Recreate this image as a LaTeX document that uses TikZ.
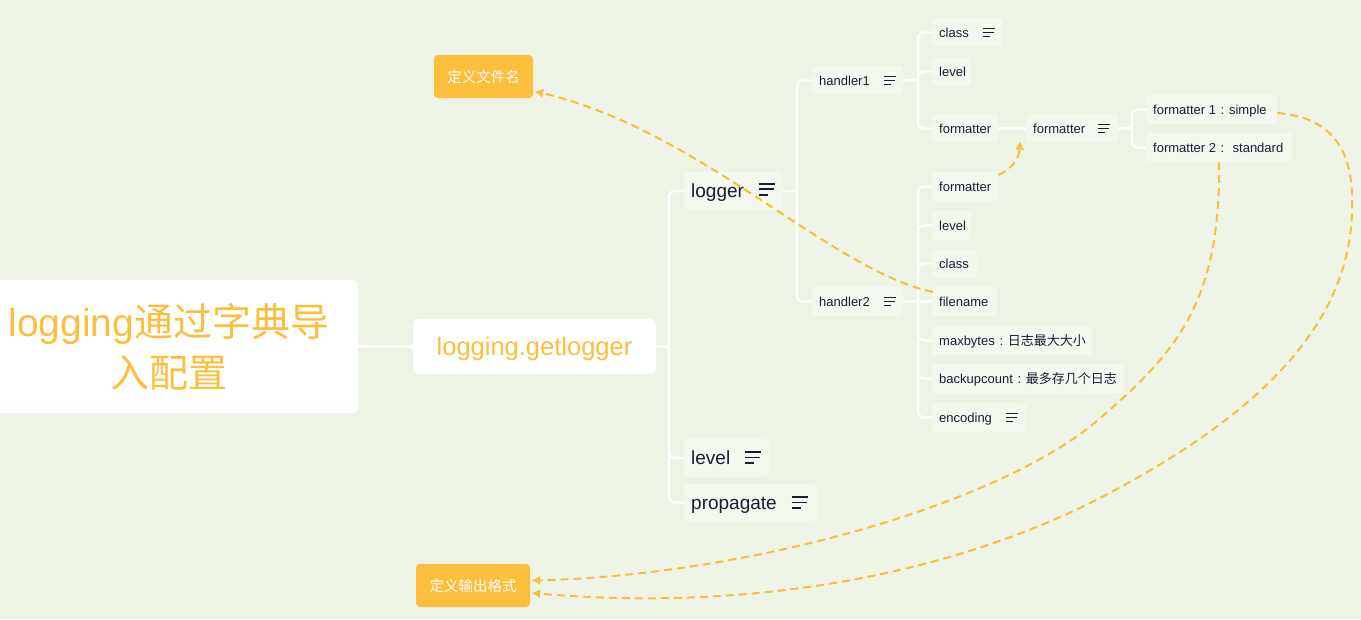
\documentclass[tikz,border=0pt]{standalone}
\usepackage{fontspec}
\setmainfont{Liberation Sans}
\newfontfamily\cjk{Noto Sans CJK SC}
\usetikzlibrary{arrows.meta,calc}
\definecolor{bgc}{HTML}{EDF4E6}
\definecolor{nodefill}{HTML}{F4F9EF}
\definecolor{orangec}{HTML}{FBBF3D}
\definecolor{darktext}{HTML}{1B1B36}
\newcommand\mmfit[2]{\makebox[#1][l]{#2}}
\newcommand\mmcolon{\makebox[13pt][c]{:}}
\tikzset{
  conn/.style={draw=white, line width=2.4pt, rounded corners=6pt},
  bigbox/.style={fill=white, rounded corners=5pt, inner sep=0pt, text=orangec},
  topic/.style={fill=nodefill, rounded corners=4pt, inner xsep=7pt, inner ysep=0pt,
      text=darktext, anchor=west, font=\fontsize{19}{22}\selectfont,
      minimum height=38pt, text height=15pt, text depth=2pt},
  leaf/.style={fill=nodefill, rounded corners=4pt, inner xsep=7pt, inner ysep=0pt,
      text=darktext, anchor=west, font=\fontsize{13}{15}\selectfont,
      minimum height=29pt, text height=11pt, text depth=2pt},
  notebox/.style={fill=orangec, rounded corners=4pt, inner sep=0pt, text=white,
      font=\cjk\fontsize{14.5}{16}\selectfont, text height=12pt, text depth=1pt},
  relation/.style={draw=orangec, line width=2pt, dash pattern=on 8pt off 5pt,
      -{Triangle[length=8pt,width=8pt]}},
  noteline/.style={draw=darktext, line cap=butt},
  snote/.pic={\draw[noteline, line width=1.3pt] (-12,-4) -- (0,-4) (-12,0) -- (-1,0) (-12,3.8) -- (-5,3.8);},
  bnote/.pic={\draw[noteline, line width=1.8pt] (-16.5,-5.5) -- (0,-5.5) (-16.5,0) -- (-1.5,0) (-16.5,5.4) -- (-7,5.4);}
}
\begin{document}
\begin{tikzpicture}[x=1pt,y=-1pt]
\fill[bgc] (0,0) rectangle (1361,619);
\useasboundingbox (0,0) rectangle (1361,619);

% main nodes
\node[bigbox, minimum width=378pt, minimum height=133pt, align=center,
      font=\fontsize{39}{51}\selectfont] (root) at (169,346.5)
      {logging{\cjk 通过字典导}\\{\cjk 入配置}};
\node[bigbox, minimum width=243pt, minimum height=55pt, text height=19pt, text depth=2pt,
      font=\fontsize{25.5}{28}\selectfont] (getlogger) at (534.5,346.5) {logging.getlogger};

\node[topic] (logger) at (684,191) {\mmfit{85pt}{logger}};
\node[topic] (toplevel) at (684,458) {\mmfit{71pt}{level}};
\node[topic, minimum height=37pt] (propagate) at (684,502.5) {\mmfit{119pt}{propagate}};

\node[leaf] (handler1) at (812,80.5) {\mmfit{77pt}{handler1}};
\node[leaf] (handler2) at (812,301.5) {\mmfit{77pt}{handler2}};

\node[leaf] (hclass) at (932,32.5) {\mmfit{56pt}{class}};
\node[leaf] (hlevel) at (932,71.5) {\mmfit{25pt}{level}};
\node[leaf] (hfmt) at (932,128.5) {\mmfit{52pt}{formatter}};
\node[leaf] (fmtb) at (1026,128.5) {\mmfit{78pt}{formatter}};
\node[leaf] (simple) at (1146,109.5) {\mmfit{117pt}{formatter 1\mmcolon simple}};
\node[leaf] (standard) at (1146,147.5) {\mmfit{132pt}{formatter 2\mmcolon\ standard}};

\node[leaf] (kfmt) at (932,186.5) {\mmfit{52pt}{formatter}};
\node[leaf] (klevel) at (932,225.5) {\mmfit{25pt}{level}};
\node[leaf] (kclass) at (932,263.5) {\mmfit{31pt}{class}};
\node[leaf] (filename) at (932,301.5) {\mmfit{51pt}{filename}};
\node[leaf] (maxbytes) at (932,340.5) {\mmfit{146pt}{maxbytes\mmcolon{\cjk 日志最大大小}}};
\node[leaf] (backup) at (932,378.5) {\mmfit{178pt}{backupcount\mmcolon{\cjk 最多存几个日志}}};
\node[leaf] (encoding) at (932,417.5) {\mmfit{80pt}{encoding}};

\node[notebox, minimum width=99pt, minimum height=43pt] (fnnote) at (483.5,76.5) {定义文件名};
\node[notebox, minimum width=114pt, minimum height=43pt] (fmtnote) at (473,585.5) {定义输出格式};

% note icons
\pic at ($(logger.east)+(-8,-1.7)$) {bnote};
\pic at ($(toplevel.east)+(-8,-0.5)$) {bnote};
\pic at ($(propagate.east)+(-9,0)$) {bnote};
\pic at ($(handler1.east)+(-7,0)$) {snote};
\pic at ($(handler2.east)+(-7,0)$) {snote};
\pic at ($(hclass.east)+(-7,0)$) {snote};
\pic at ($(fmtb.east)+(-8,0)$) {snote};
\pic at ($(encoding.east)+(-8,0)$) {snote};

% junctions
\coordinate (j0) at (669,346.5);
\coordinate (j1) at (797,191);
\coordinate (j2) at (918,80.5);
\coordinate (j3) at (1132,128.5);
\coordinate (j4) at (918,301.5);

% tree connectors
\draw[conn] (root.east) -- (getlogger.west);
\draw[conn] (getlogger.east) -- (j0);
\draw[conn] (j0) |- (logger.west);
\draw[conn] (j0) |- (toplevel.west);
\draw[conn] (j0) |- (propagate.west);

\draw[conn] (logger.east) -- (j1);
\draw[conn] (j1) |- (handler1.west);
\draw[conn] (j1) |- (handler2.west);

\draw[conn] (handler1.east) -- (j2);
\draw[conn] (j2) |- (hclass.west);
\draw[conn] (j2) |- (hlevel.west);
\draw[conn] (j2) |- (hfmt.west);
\draw[conn] (hfmt.east) -- (fmtb.west);
\draw[conn] (fmtb.east) -- (j3);
\draw[conn] (j3) |- (simple.west);
\draw[conn] (j3) |- (standard.west);

\draw[conn] (handler2.east) -- (j4);
\draw[conn] (j4) |- (kfmt.west);
\draw[conn] (j4) |- (klevel.west);
\draw[conn] (j4) |- (kclass.west);
\draw[conn] (j4) -- (filename.west);
\draw[conn] (j4) |- (maxbytes.west);
\draw[conn] (j4) |- (backup.west);
\draw[conn] (j4) |- (encoding.west);

% relationships
\coordinate (r1s) at ($(filename.west)+(1,-9.5)$);
\coordinate (r1e) at ($(fnnote.east)+(2,15)$);
\draw[relation] (r1s) .. controls (830,270) and (700,130) .. (r1e);

\coordinate (r2s) at ($(kfmt.east)+(0,-11.5)$);
\coordinate (r2e) at ($(fmtb.south west)+(-6,-1.5)$);
\draw[relation] (r2s) .. controls (1010,170) and (1019,160) .. (r2e);

\coordinate (r3s) at ($(simple.east)+(0,3.5)$);
\coordinate (r3m) at (1352,210);
\coordinate (r3n) at (1100,498);
\coordinate (r3e) at ($(fmtnote.east)+(2,7.5)$);
\draw[relation] (r3s) .. controls (1340,118) and (1354,160) .. (r3m)
   .. controls (1350,330) and (1250,420) .. (r3n)
   .. controls (950,575) and (750,612) .. (r3e);

\coordinate (r4s) at (standard.south);
\coordinate (r4m) at (1098,420);
\coordinate (r4e) at ($(fmtnote.east)+(2,-5)$);
\draw[relation] (r4s) .. controls (1220,300) and (1180,350) .. (r4m)
   .. controls (1000,504) and (750,575) .. (r4e);
\end{tikzpicture}
\end{document}
